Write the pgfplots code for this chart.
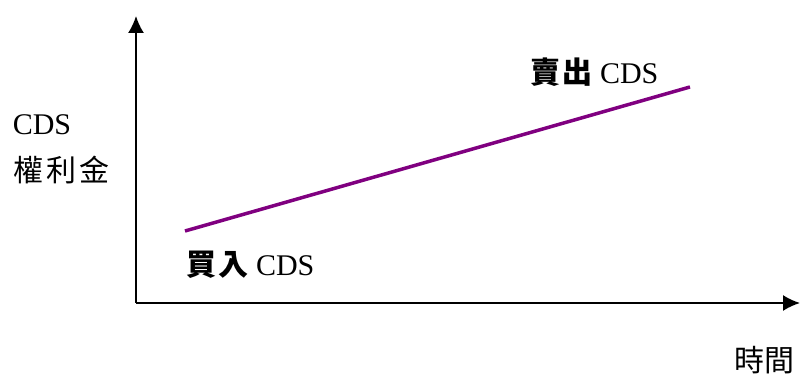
\documentclass[border=0pt]{standalone}
\usepackage{pgfplots}
\pgfplotsset{compat=1.18}
\usetikzlibrary{arrows.meta}
\usepackage{fontspec}
\setmainfont{Liberation Serif}
\newfontfamily\cjk{Noto Sans CJK TC}
\definecolor{linepurple}{RGB}{128,0,128}
\begin{document}
\begin{tikzpicture}
\begin{axis}[
  scale only axis,
  width=664pt, height=287pt,
  xmin=136, xmax=800, ymin=0, ymax=287,
  axis x line*=bottom, axis y line*=left,
  x axis line style={line width=1.8pt, -{Latex[length=17pt,width=16pt]}},
  y axis line style={line width=1.8pt, -{Latex[length=17pt,width=16pt]}},
  xtick=\empty, ytick=\empty,
  clip=false,
]
\addplot[color=linepurple, line width=3.5pt] coordinates {(185,72) (690,216)};
\node[font=\fontsize{30}{34}\selectfont] at (axis cs:42,178) {CDS};
\node[font=\fontsize{30}{34}\selectfont\cjk, anchor=west] at (axis cs:10,133) {權\hspace{3pt}利\hspace{3pt}金};
\node[font=\fontsize{30}{34}\selectfont\cjk] at (axis cs:764,-57) {時間};
\node[font=\fontsize{30}{34}\selectfont, anchor=west] at (axis cs:183,38) {{\cjk\bfseries 買\hspace{2pt}入} CDS};
\node[font=\fontsize{30}{34}\selectfont, anchor=west] at (axis cs:527,231) {{\cjk\bfseries 賣\hspace{2pt}出} CDS};
\coordinate (bl) at (axis cs:0,-71);
\coordinate (tr) at (axis cs:800,303);
\end{axis}
\pgfresetboundingbox
\path[use as bounding box] (bl) rectangle (tr);
\end{tikzpicture}
\end{document}
